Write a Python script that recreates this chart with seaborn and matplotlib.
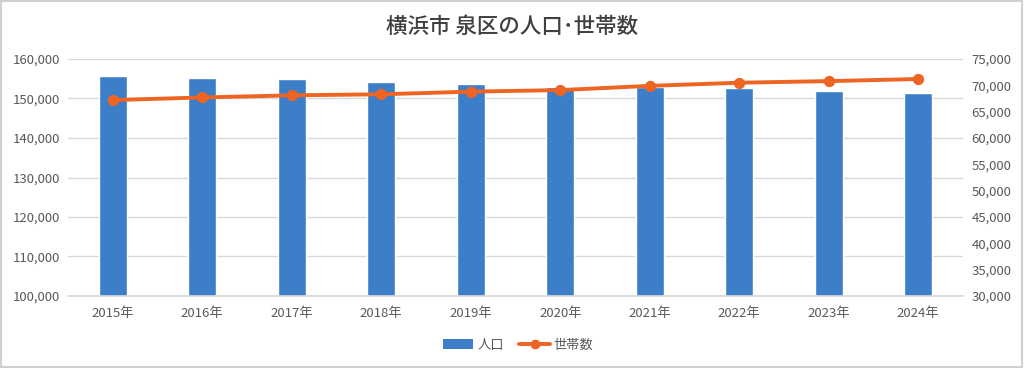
import pandas as pd
import matplotlib.pyplot as plt
import seaborn as sns
from matplotlib.lines import Line2D
from matplotlib.patches import Patch, Rectangle

years = ['2015年', '2016年', '2017年', '2018年', '2019年', '2020年', '2021年', '2022年', '2023年', '2024年']
population = [155770, 155190, 154860, 154100, 153600, 153000, 152850, 152600, 151900, 151400]
households = [67200, 67700, 68100, 68300, 68800, 69100, 69900, 70500, 70800, 71200]

data = pd.DataFrame({'year': years, 'pop': population, 'hh': households})

sns.set_theme(style='white')
plt.rcParams['font.family'] = ['Noto Sans CJK JP', 'DejaVu Sans']

bar_c = '#3D7EC9'
line_c = '#EE6423'
txt_c = '#595959'

fig = plt.figure(figsize=(10.24, 3.68), dpi=100)
ax = fig.add_axes([68 / 1024, 1 - 296 / 368, (963 - 68) / 1024, (296 - 59) / 368])
ax2 = ax.twinx()

sns.barplot(ax=ax, data=data, x='year', y='pop', color=bar_c, width=0.31, saturation=1)
sns.pointplot(ax=ax2, data=data, x='year', y='hh', color=line_c, markers='o',
              linewidth=2.8, markersize=6)

ax.set_ylim(100000, 160000)
ax2.set_ylim(30000, 75000)
ax.set_xlim(-0.5, 9.5)
ax.set_yticks(range(100000, 160001, 10000))
ax2.set_yticks(range(30000, 75001, 5000))
ax.yaxis.set_major_formatter(plt.FuncFormatter(lambda v, p: f'{int(v):,}'))
ax2.yaxis.set_major_formatter(plt.FuncFormatter(lambda v, p: f'{int(v):,}'))

ax.grid(axis='y', color='#D9D9D9', linewidth=1)
ax.set_axisbelow(True)
ax2.grid(False)
for a in (ax, ax2):
    for s in a.spines.values():
        s.set_visible(False)
    a.set_xlabel('')
    a.set_ylabel('')
    a.tick_params(length=0, labelsize=9.5, labelcolor=txt_c, pad=6)
ax.spines['bottom'].set_visible(True)
ax.spines['bottom'].set_color('#D9D9D9')
ax.tick_params(axis='x', pad=8)
ax.set_zorder(ax2.get_zorder() - 1)
ax2.patch.set_visible(False)

fig.text(0.5, 1 - 27 / 368, '横浜市 泉区の人口･世帯数', ha='center', va='center',
         fontsize=15.5, fontweight='medium', color='#404040')

handles = [Patch(facecolor=bar_c, edgecolor='none'),
           Line2D([0], [0], color=line_c, lw=2.8, marker='o', markersize=6)]
fig.legend(handles, ['人口', '世帯数'], loc='center', bbox_to_anchor=(0.506, 1 - 345 / 368),
           ncol=2, frameon=False, fontsize=9.5, labelcolor=txt_c, handlelength=2.3,
           columnspacing=1.2, handletextpad=0.3)

fig.patches.append(Rectangle((0.001, 0.002), 0.997, 0.995, transform=fig.transFigure,
                             fill=False, edgecolor='#D0D0D0', linewidth=1.5))

fig.savefig('out.png', dpi=100)
